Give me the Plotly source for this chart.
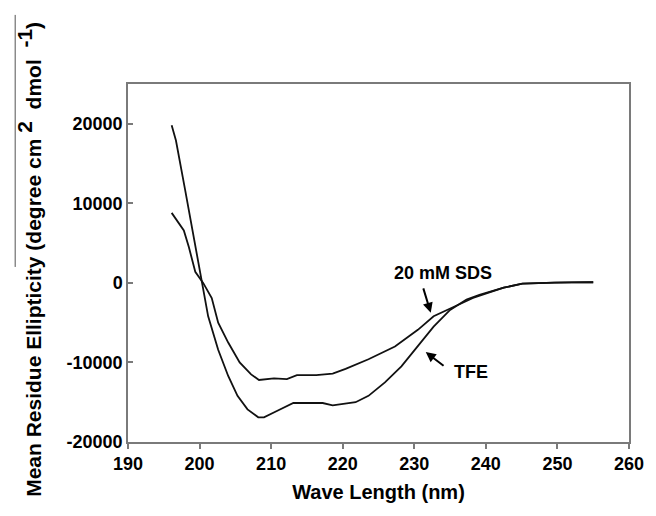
import plotly.graph_objects as go

# Wavelength (nm) and mean residue ellipticity values
tfe_wl = [196.1, 196.7, 198.0, 199.4, 200.3, 201.2, 202.6, 204.0, 205.3, 206.7,
          208.2, 209.0, 210.8, 213.1, 215.0, 217.2, 218.6, 219.6, 221.8, 223.6,
          225.9, 228.2, 230.5, 232.7, 235.0, 237.3, 239.1, 240.5, 242.5, 245.1,
          247.5, 249.6, 252.0, 255.0]
tfe_val = [19800, 17900, 11600, 4500, 0, -4200, -8400, -11700, -14200, -15900,
           -16900, -16900, -16100, -15100, -15100, -15100, -15400, -15300, -15000, -14200,
           -12500, -10500, -8000, -5500, -3400, -2100, -1500, -1100, -600, -100,
           0, 40, 60, 80]

sds_wl = [196.1, 196.9, 197.8, 198.5, 199.4, 200.5, 201.7, 202.6, 204.0, 205.6,
          207.2, 208.3, 210.4, 212.2, 213.6, 216.3, 218.6, 220.4, 221.8, 223.6,
          227.3, 230.5, 232.7, 235.5, 238.2, 240.5, 242.5, 245.1, 247.5, 249.6,
          252.0, 255.0]
sds_val = [8800, 7700, 6600, 4500, 1400, 0, -1900, -5000, -7500, -10000,
           -11500, -12200, -12000, -12100, -11600, -11600, -11400, -10800, -10250, -9600,
           -8000, -5900, -4200, -3000, -1900, -1200, -600, -100, 0, 40,
           60, 80]

x_ticks = [190, 200, 210, 220, 230, 240, 250, 260]
y_ticks = [-20000, -10000, 0, 10000, 20000]

FONT = "Liberation Sans, Arial, sans-serif"
AXIS_GRAY = "#7a7a7a"

fig = go.Figure()
fig.add_trace(go.Scatter(x=tfe_wl, y=tfe_val, mode="lines", name="TFE",
                         line=dict(color="#111111", width=1.8)))
fig.add_trace(go.Scatter(x=sds_wl, y=sds_val, mode="lines", name="20 mM SDS",
                         line=dict(color="#111111", width=1.8)))

# page body has an 8px default margin, so the figure is 8px smaller than the window
fig.update_layout(
    width=648, height=508,
    margin=dict(l=120, r=17, t=76, b=74),
    paper_bgcolor="white", plot_bgcolor="white",
    showlegend=False,
    font=dict(family=FONT, color="black"),
)
fig.update_xaxes(
    range=[190, 260], tickvals=x_ticks, ticktext=[str(v) for v in x_ticks],
    showgrid=False, zeroline=False,
    showline=True, linecolor=AXIS_GRAY, linewidth=1.5, mirror=True,
    ticks="outside", ticklen=5, tickcolor=AXIS_GRAY, tickwidth=1.5,
    tickfont=dict(family=FONT, size=18, color="black", weight="bold"),
    title=dict(text="Wave Length (nm)", standoff=12,
               font=dict(family=FONT, size=20, color="black", weight="bold")),
)
fig.update_yaxes(
    range=[-20000, 25000], tickvals=y_ticks, ticktext=[str(v) for v in y_ticks],
    showgrid=False, zeroline=False,
    showline=True, linecolor=AXIS_GRAY, linewidth=1.5, mirror=True,
    ticks="inside", ticklen=5, tickcolor=AXIS_GRAY, tickwidth=1.5,
    tickfont=dict(family=FONT, size=18, color="black", weight="bold"),
)

# y axis title placed as rotated annotation
fig.add_annotation(
    text="Mean Residue Ellipticity (degree cm <sup><span style='font-size:21px'>2</span></sup>"
         "  dmol  <sup><span style='font-size:21px'>-1</span></sup>)",
    xref="paper", yref="paper", x=-0.198, y=0.511, xanchor="center", yanchor="middle",
    textangle=-90, showarrow=False,
    font=dict(family=FONT, size=21, color="black", weight="bold"),
)

# Curve labels with arrows
fig.add_annotation(text="20 mM SDS", x=234.0, y=1300, xref="x", yref="y",
                   showarrow=False,
                   font=dict(family=FONT, size=18, color="black", weight="bold"))
fig.add_annotation(text="", x=232.3, y=-3750, ax=231.2, ay=-500,
                   xref="x", yref="y", axref="x", ayref="y",
                   showarrow=True, arrowhead=2, arrowsize=1, arrowwidth=2,
                   arrowcolor="black")
fig.add_annotation(text="TFE", x=237.9, y=-11200, xref="x", yref="y",
                   showarrow=False,
                   font=dict(family=FONT, size=18, color="black", weight="bold"))
fig.add_annotation(text="", x=231.6, y=-8700, ax=234.3, ay=-10560,
                   xref="x", yref="y", axref="x", ayref="y",
                   showarrow=True, arrowhead=2, arrowsize=1, arrowwidth=2,
                   arrowcolor="black")

# faint frame line at the left edge of the figure
fig.add_shape(type="line", xref="paper", yref="paper",
              x0=-0.225, x1=-0.225, y0=0.489, y1=1.193,
              line=dict(color="#8a8a8a", width=1.5))

fig.write_html("out.html")
